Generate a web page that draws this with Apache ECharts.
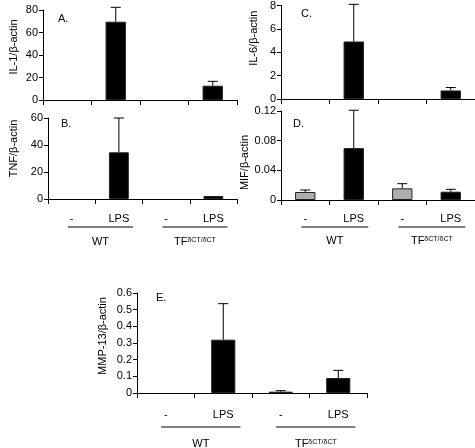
<!DOCTYPE html>
<html>
<head>
<meta charset="utf-8">
<script src="https://cdn.jsdelivr.net/npm/echarts@6/dist/echarts.min.js"></script>
<style>html,body{margin:0;padding:0;background:#fff}#c{width:475px;height:448px}</style>
</head>
<body>
<div id="c"></div>
<script>
// ---- data ----
var categories = ['-', 'LPS', '-', 'LPS'];
var groups = ['WT', 'TF'];
var il1Mean = [null, 69.6, null, 12.7];
var il1Err  = [null, 82.4, null, 16.6];
var tnfMean = [null, 34.6, null, 2.2];
var tnfErr  = [null, 60.0, null, null];
var il6Mean = [null, 4.92, null, 0.73];
var il6Err  = [null, 8.1, null, 0.98];
var mifMean = [0.0108, 0.070, 0.0157, 0.0112];
var mifErr  = [0.0135, 0.121, 0.022, 0.0144];
var mmpMean = [null, 0.32, 0.008, 0.09];
var mmpErr  = [null, 0.536, 0.014, 0.136];
var il1Ticks = {max: 80, interval: 20};
var tnfTicks = {max: 60, interval: 20};
var il6Ticks = {max: 8, interval: 2};
var mifTicks = {max: 0.12, interval: 0.04};
var mmpTicks = {max: 0.6, interval: 0.1};

var FONT = '"Liberation Sans", Arial, sans-serif';
var panels = [
  {name: 'IL-1/β-actin', mean: il1Mean, err: il1Err, ticks: il1Ticks, dec: 0, shift: 8,
   grid: {left: 43, top: 10, right: 238, height: 90}, gap: 24, labels: false, tag: 'A.', tagPos: [58, 13]},
  {name: 'TNF/β-actin', mean: tnfMean, err: tnfErr, ticks: tnfTicks, dec: 0, shift: 10,
   grid: {left: 48, top: 118, right: 238, height: 81}, gap: 29, labels: true, margin: 14, lineDy: 28, textDy: 43, tag: 'B.', tagPos: [61, 118]},
  {name: 'IL-6/β-actin', mean: il6Mean, err: il6Err, ticks: il6Ticks, dec: 0, shift: 14,
   grid: {left: 281, top: 4, right: -1, height: 95}, gap: 22, labels: false, tag: 'C.', tagPos: [301, 8]},
  {name: 'MIF/β-actin', mean: mifMean, err: mifErr, ticks: mifTicks, dec: 2, shift: -7,
   grid: {left: 281, top: 111, right: -1, height: 89}, gap: 22, labels: true, margin: 13, lineDy: 27, textDy: 41, tag: 'D.', tagPos: [293, 118]},
  {name: 'MMP-13/β-actin', mean: mmpMean, err: mmpErr, ticks: mmpTicks, dec: 1, shift: 7,
   grid: {left: 137, top: 293, right: 108, height: 100}, gap: 29, labels: true, margin: 16, lineDy: 34, textDy: 51, tag: 'E.', tagPos: [156, 292]}
];

var grids = [], xAxes = [], yAxes = [], series = [];
panels.forEach(function (p, i) {
  grids.push(p.grid);
  xAxes.push({
    type: 'category', gridIndex: i, data: categories, boundaryGap: true,
    axisLine: {lineStyle: {color: '#000', width: 1}},
    axisTick: {show: true, length: 5, lineStyle: {color: '#000'}},
    axisLabel: {show: p.labels, margin: p.margin || 8, fontFamily: FONT, fontSize: 11, color: '#000'},
    splitLine: {show: false}
  });
  var pad = p.shift >= 0 ? [0, 0, 0, 2 * p.shift] : [0, -2 * p.shift, 0, 0];
  yAxes.push({
    type: 'value', gridIndex: i, min: 0, max: p.ticks.max, interval: p.ticks.interval,
    name: p.name, nameLocation: 'middle', nameGap: p.gap,
    nameTextStyle: {fontFamily: FONT, fontSize: 11, color: '#000', padding: pad},
    axisLine: {show: true, lineStyle: {color: '#000', width: 1}},
    axisTick: {show: true, length: 4, lineStyle: {color: '#000'}},
    axisLabel: {fontFamily: FONT, fontSize: 11, color: '#000', margin: 5,
      formatter: (function (d) { return function (v) { return v === 0 ? '0' : v.toFixed(d); }; })(p.dec)},
    splitLine: {show: false}
  });
  series.push({
    type: 'bar', xAxisIndex: i, yAxisIndex: i, barWidth: '42%', silent: true,
    data: p.mean.map(function (v, k) {
      return {value: v, itemStyle: {color: k % 2 === 0 ? '#adadad' : '#000', borderColor: '#222', borderWidth: 1}};
    })
  });
  var errData = [];
  p.err.forEach(function (e, k) { if (e != null && p.mean[k] != null) errData.push([k, p.mean[k], e]); });
  series.push({
    type: 'custom', xAxisIndex: i, yAxisIndex: i, silent: true, z: 1,
    data: errData,
    renderItem: function (params, api) {
      var lo = api.coord([api.value(0), api.value(1)]);
      var hi = api.coord([api.value(0), api.value(2)]);
      var hw = 5;
      return {type: 'group', children: [
        {type: 'line', shape: {x1: lo[0], y1: lo[1], x2: hi[0], y2: hi[1]}, style: {stroke: '#000', lineWidth: 1}},
        {type: 'line', shape: {x1: hi[0] - hw, y1: hi[1], x2: hi[0] + hw, y2: hi[1]}, style: {stroke: '#000', lineWidth: 1}}
      ]};
    }
  });
});

var chart = echarts.init(document.getElementById('c'), null, {renderer: 'canvas'});
chart.setOption({
  animation: false, backgroundColor: '#fff',
  grid: grids, xAxis: xAxes, yAxis: yAxes, series: series
});

// annotations: panel tags, group lines and group names, positioned from axes
var g = [];
panels.forEach(function (p, i) {
  g.push({type: 'text', x: p.tagPos[0], y: p.tagPos[1],
    style: {text: p.tag, font: '11px ' + FONT, fill: '#000'}});
  if (!p.labels) return;
  var y0 = chart.convertToPixel({yAxisIndex: i}, 0);
  var c = [0, 1, 2, 3].map(function (k) { return chart.convertToPixel({xAxisIndex: i}, k); });
  var w = c[1] - c[0];
  [0, 1].forEach(function (gi) {
    var x1 = c[gi * 2] - 0.08 * w, x2 = c[gi * 2 + 1] + 0.3 * w;
    g.push({type: 'line', shape: {x1: x1, y1: y0 + p.lineDy, x2: x2, y2: y0 + p.lineDy},
      style: {stroke: '#000', lineWidth: 1}});
    var txt = gi === 0 ? {text: groups[0], font: '11px ' + FONT, fill: '#000', align: 'center', verticalAlign: 'middle'}
      : {text: '{a|' + groups[1] + '}{b|δCT/δCT}', align: 'center', verticalAlign: 'middle', fill: '#000',
         rich: {a: {fontFamily: FONT, fontSize: 11, fill: '#000', verticalAlign: 'bottom'},
                b: {fontFamily: FONT, fontSize: 7, fill: '#000', verticalAlign: 'top', padding: [0, 0, 4, 0]}}};
    g.push({type: 'text', x: (x1 + x2) / 2, y: y0 + p.textDy, style: txt});
  });
});
chart.setOption({graphic: g});
</script>
</body>
</html>
